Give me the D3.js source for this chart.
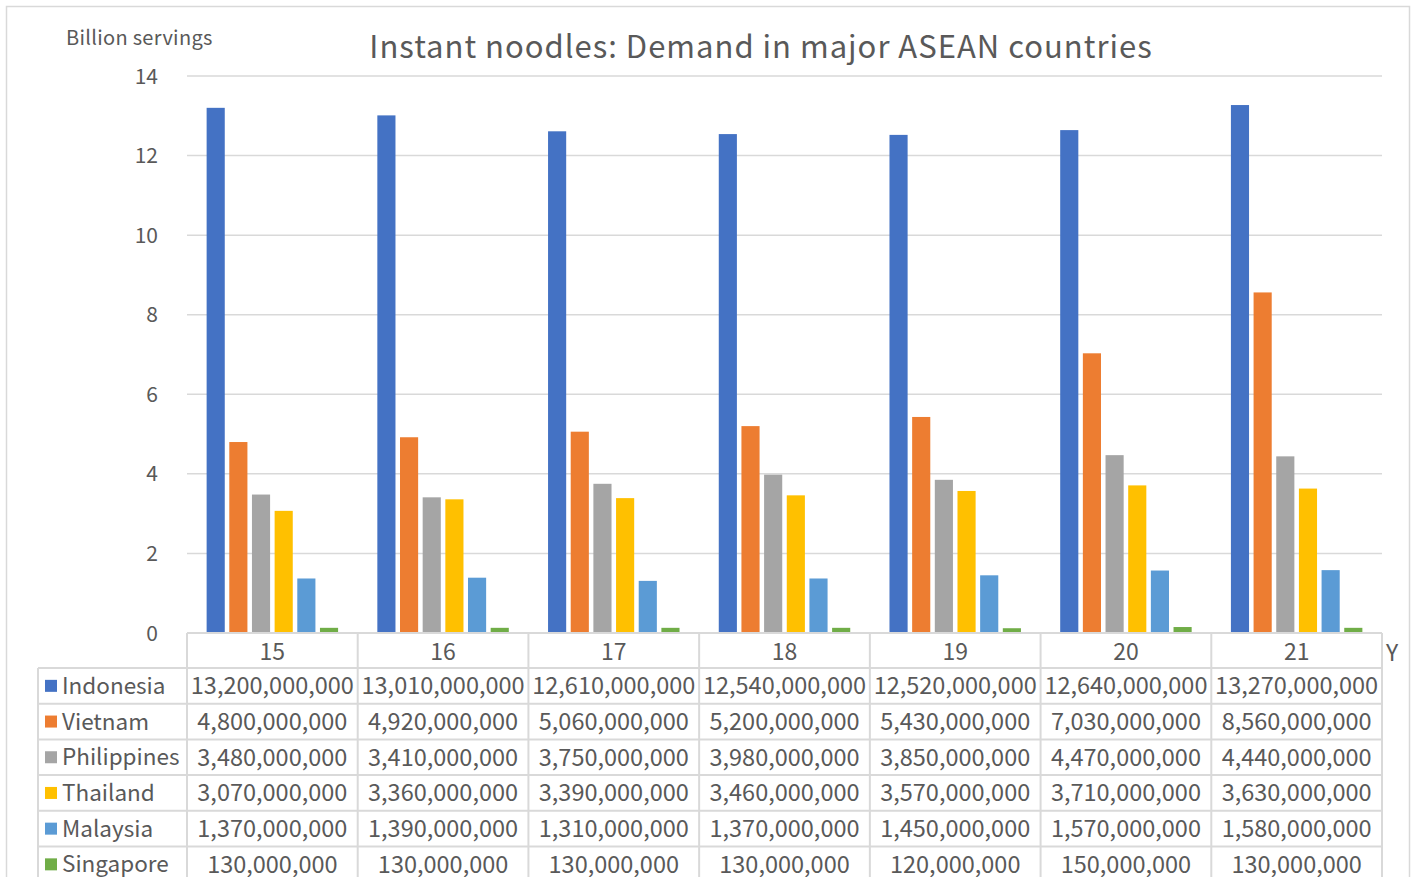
<!DOCTYPE html>
<html><head><meta charset="utf-8">
<script src="https://cdnjs.cloudflare.com/ajax/libs/d3/7.8.5/d3.min.js"></script>
<style>
html,body{margin:0;padding:0;background:#fff;}
svg text{font-family:"Noto Sans CJK JP","Noto Sans",sans-serif;fill:#595959;}
</style></head>
<body><svg id="c" width="1415" height="877"></svg>
<script>
const years = ["15","16","17","18","19","20","21"];
const countries = ["Indonesia","Vietnam","Philippines","Thailand","Malaysia","Singapore"];
const colors = ["#4472c4","#ed7d31","#a5a5a5","#ffc000","#5b9bd5","#70ad47"];
const indonesia   = [13200000000,13010000000,12610000000,12540000000,12520000000,12640000000,13270000000];
const vietnam     = [4800000000,4920000000,5060000000,5200000000,5430000000,7030000000,8560000000];
const philippines = [3480000000,3410000000,3750000000,3980000000,3850000000,4470000000,4440000000];
const thailand    = [3070000000,3360000000,3390000000,3460000000,3570000000,3710000000,3630000000];
const malaysia    = [1370000000,1390000000,1310000000,1370000000,1450000000,1570000000,1580000000];
const singapore   = [130000000,130000000,130000000,130000000,120000000,150000000,130000000];
const series = [indonesia,vietnam,philippines,thailand,malaysia,singapore];
const yTicks = [0,2,4,6,8,10,12,14];
const title = "Instant noodles: Demand in major ASEAN countries";
const yUnit = "Billion servings";
const xUnit = "Y";

const svg = d3.select("#c");
const L=187, R=1382, T=76, B=633;
const grid="#d9d9d9";

svg.append("rect").attr("x",6.5).attr("y",6.5).attr("width",1403).attr("height",900)
  .attr("fill","none").attr("stroke","#d9d9d9").attr("stroke-width",1.5);

const x0 = d3.scaleBand().domain(years).range([L,R]).padding(0);
const x1 = d3.scaleBand().domain(countries).range([-68,68]).paddingInner(0.2).paddingOuter(0.1);
const y = d3.scaleLinear().domain([0,14]).range([B,T]);

// gridlines
svg.append("g").selectAll("line").data(yTicks.filter(d=>d>0)).join("line")
  .attr("x1",L).attr("x2",R).attr("y1",d=>y(d)).attr("y2",d=>y(d))
  .attr("stroke",grid).attr("stroke-width",1.5);

// y labels
svg.append("g").selectAll("text").data(yTicks).join("text")
  .attr("x",158).attr("y",d=>y(d)).attr("dy","0.36em").attr("text-anchor","end")
  .attr("font-size",21).text(d=>d);

// bars
const g = svg.append("g");
series.forEach((vals,si)=>{
  g.append("g").selectAll("rect").data(vals).join("rect")
    .attr("x",(d,i)=>x0(years[i])+x0.bandwidth()/2+x1(countries[si]))
    .attr("width",x1.bandwidth())
    .attr("y",d=>y(d/1e9)).attr("height",d=>B-y(d/1e9))
    .attr("fill",colors[si]);
});

// title & units
svg.append("text").attr("x",761).attr("y",58).attr("text-anchor","middle")
  .attr("font-size",31).attr("letter-spacing",1).text(title);
svg.append("text").attr("x",66).attr("y",45).attr("font-size",20).attr("letter-spacing",0.3).text(yUnit);
svg.append("text").attr("x",1386).attr("y",661).attr("font-size",23).text(xUnit);

// data table
const rowH = 35.7;
const tb = svg.append("g");
const lineAttr = s=>s.attr("stroke",grid).attr("stroke-width",2);
const hTop=B, hBot=B+35;
lineAttr(tb.append("line").attr("x1",L).attr("x2",R).attr("y1",hTop).attr("y2",hTop));
const rowTops = countries.map((c,i)=>hBot+i*rowH);
lineAttr(tb.append("line").attr("x1",38).attr("x2",R).attr("y1",hBot).attr("y2",hBot));
rowTops.forEach((t,i)=>{
  lineAttr(tb.append("line").attr("x1",38).attr("x2",R).attr("y1",t+rowH).attr("y2",t+rowH));
});
years.concat(["end"]).forEach((yr,i)=>{
  const xx = yr==="end"?R:x0(yr);
  lineAttr(tb.append("line").attr("x1",xx).attr("x2",xx).attr("y1",hTop).attr("y2",900));
});
lineAttr(tb.append("line").attr("x1",38).attr("x2",38).attr("y1",hBot).attr("y2",900));
tb.selectAll("text.h").data(years).join("text").attr("class","h")
  .attr("x",d=>x0(d)+x0.bandwidth()/2).attr("y",(hTop+hBot)/2+1).attr("dy","0.36em")
  .attr("text-anchor","middle").attr("font-size",23).text(d=>d);
const fmt = d3.format(",");
countries.forEach((c,ci)=>{
  const cy = rowTops[ci]+rowH/2;
  tb.append("rect").attr("x",45).attr("y",cy-6).attr("width",12).attr("height",12).attr("fill",colors[ci]);
  tb.append("text").attr("x",62).attr("y",cy).attr("dy","0.36em").attr("font-size",22.5).text(c);
  tb.append("g").selectAll("text").data(series[ci]).join("text")
    .attr("x",(d,i)=>x0(years[i])+x0.bandwidth()/2).attr("y",cy).attr("dy","0.36em")
    .attr("text-anchor","middle").attr("font-size",23.5).text(d=>fmt(d));
});
</script></body></html>
